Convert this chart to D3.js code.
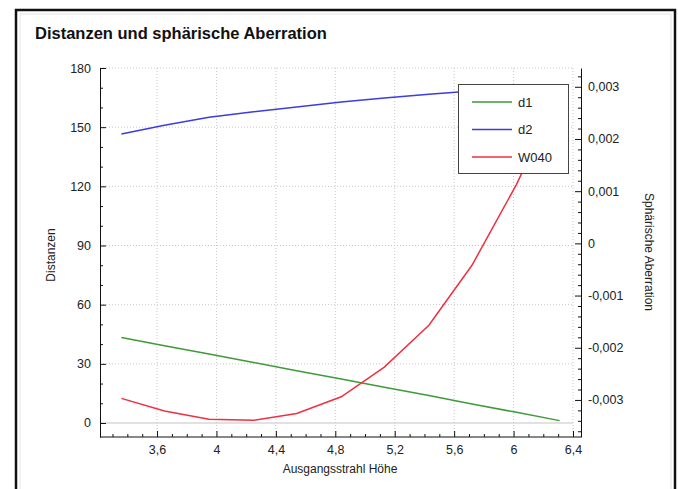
<!DOCTYPE html>
<html>
<head>
<meta charset="utf-8">
<script src="https://cdn.jsdelivr.net/npm/d3@7"></script>
<style>
  html, body { margin: 0; padding: 0; background: #fff; }
  text { font-family: "Liberation Sans", Arial, sans-serif; fill: #222; }
  .grid line { stroke: #c8c8c8; stroke-dasharray: 1,2; }
  .axis path, .axis line { stroke: #111; }
  .axis text { font-size: 12.5px; }
</style>
</head>
<body>
<div id="chart"></div>
<script>
// Data
var hoehe = [3.36, 3.65, 3.95, 4.25, 4.54, 4.84, 5.13, 5.43, 5.72, 6.02, 6.31];
var d1 = [43.4, 39.2, 35.0, 30.7, 26.5, 22.3, 18.1, 13.9, 9.6, 5.4, 1.2];
var d2 = [146.5, 151.0, 155.0, 157.8, 160.2, 162.7, 164.8, 166.7, 168.4, 170.0, 171.4];
var w040 = [-0.00297, -0.00321, -0.00337, -0.00339, -0.00326, -0.00294, -0.00237, -0.00157, -0.00042, 0.00113, 0.0029];

var xTicks = [3.6, 4, 4.4, 4.8, 5.2, 5.6, 6, 6.4];
var leftTicks = [0, 30, 60, 90, 120, 150, 180];
var rightTicks = [-0.003, -0.002, -0.001, 0, 0.001, 0.002, 0.003];

var seriesNames = ["d1", "d2", "W040"];
var seriesColors = ["#3f9a3a", "#3c3ce0", "#ee3040"];

var de = d3.formatLocale({ decimal: ",", thousands: ".", grouping: [3], currency: ["", " €"], minus: "-" });

var renderChart = function() {
  var width = 678;
  var height = 489;

  var plot = { left: 100, right: 573, top: 68, bottom: 437 };
  var rightAxisX = 581;

  var svg = d3.select("#chart")
    .append("svg")
    .attr("width", width)
    .attr("height", height);

  // Outer frame
  svg.append("rect")
    .attr("x", 16).attr("y", 10)
    .attr("width", 659).attr("height", 500)
    .attr("fill", "#fff")
    .attr("stroke", "#111")
    .attr("stroke-width", 2.5);
  svg.append("rect")
    .attr("x", 20).attr("y", 14)
    .attr("width", 651).attr("height", 500)
    .attr("fill", "none")
    .attr("stroke", "#e4e4e4");

  svg.append("text")
    .attr("x", 35).attr("y", 39)
    .style("font-size", "16.5px")
    .style("font-weight", "bold")
    .style("fill", "#111")
    .text("Distanzen und sphärische Aberration");

  // Scales
  var xScale = d3.scaleLinear().domain([3.216, 6.4]).range([plot.left, plot.right]);
  var yLeft = d3.scaleLinear().domain([-7.1, 180]).range([plot.bottom, plot.top]);
  var yRight = d3.scaleLinear().domain([-0.00371, 0.00336]).range([plot.bottom, plot.top]);

  // Grid
  var grid = svg.append("g").attr("class", "grid");
  grid.selectAll(".h")
    .data(leftTicks.filter(d => d !== 0))
    .enter().append("line")
    .attr("x1", plot.left).attr("x2", plot.right)
    .attr("y1", d => yLeft(d)).attr("y2", d => yLeft(d));
  grid.selectAll(".v")
    .data(xTicks)
    .enter().append("line")
    .attr("x1", d => xScale(d)).attr("x2", d => xScale(d))
    .attr("y1", plot.top).attr("y2", plot.bottom);
  svg.append("line")
    .attr("x1", plot.left).attr("x2", plot.right)
    .attr("y1", yLeft(0)).attr("y2", yLeft(0))
    .attr("stroke", "#c4c4c4");

  // Lines
  var pts = hoehe.map((h, i) => i);
  var series = [
    { values: d1, scale: yLeft },
    { values: d2, scale: yLeft },
    { values: w040, scale: yRight }
  ];
  series.forEach(function(s, k) {
    var line = d3.line()
      .x(i => xScale(hoehe[i]))
      .y(i => s.scale(s.values[i]));
    svg.append("path")
      .attr("d", line(pts))
      .attr("fill", "none")
      .attr("stroke", seriesColors[k])
      .attr("stroke-width", 1.5);
  });

  // Minor tick values
  var xMinor = d3.range(33, 65).map(d => d / 10).filter(d => xTicks.indexOf(d) < 0);
  var leftMinor = d3.range(0, 181, 10).filter(d => d % 30 !== 0);
  var rightMinor = d3.range(-18, 17).map(d => d * 0.0002).filter(d => Math.abs(d * 1000 - Math.round(d * 1000)) > 1e-6);

  // Bottom axis
  var xAxis = d3.axisBottom(xScale)
    .tickValues(xTicks)
    .tickSize(-6)
    .tickSizeOuter(0)
    .tickPadding(8)
    .tickFormat(de.format(".1~f"));
  var xg = svg.append("g")
    .attr("class", "x axis")
    .attr("transform", `translate(0,${plot.bottom})`)
    .call(xAxis);
  xg.select(".domain").attr("d", `M${plot.left},0H${rightAxisX}`);
  svg.append("g")
    .attr("class", "x axis minor")
    .attr("transform", `translate(0,${plot.bottom})`)
    .call(d3.axisBottom(xScale).tickValues(xMinor).tickSize(-3).tickFormat(""))
    .select(".domain").remove();

  // Left axis
  svg.append("g")
    .attr("class", "y axis")
    .attr("transform", `translate(${plot.left},0)`)
    .call(d3.axisLeft(yLeft).tickValues(leftTicks).tickSize(-6).tickSizeOuter(0).tickPadding(9));
  svg.append("g")
    .attr("class", "y axis minor")
    .attr("transform", `translate(${plot.left},0)`)
    .call(d3.axisLeft(yLeft).tickValues(leftMinor).tickSize(-3).tickFormat(""))
    .select(".domain").remove();

  // Right axis
  svg.append("g")
    .attr("class", "y axis")
    .attr("transform", `translate(${rightAxisX},0)`)
    .call(d3.axisRight(yRight).tickValues(rightTicks).tickSize(-6).tickSizeOuter(0).tickPadding(7)
      .tickFormat(d => d === 0 ? "0" : de.format(".3f")(d)));
  svg.append("g")
    .attr("class", "y axis minor")
    .attr("transform", `translate(${rightAxisX},0)`)
    .call(d3.axisRight(yRight).tickValues(rightMinor).tickSize(-3).tickFormat(""))
    .select(".domain").remove();

  // Axis titles
  svg.append("text")
    .attr("x", 340).attr("y", 473)
    .attr("text-anchor", "middle")
    .style("font-size", "12px")
    .text("Ausgangsstrahl Höhe");
  svg.append("text")
    .attr("transform", "translate(55,255) rotate(-90)")
    .attr("text-anchor", "middle")
    .style("font-size", "12px")
    .text("Distanzen");
  svg.append("text")
    .attr("transform", "translate(645,252) rotate(90)")
    .attr("text-anchor", "middle")
    .style("font-size", "12px")
    .text("Sphärische Aberration");

  // Legend
  var legend = svg.append("g").attr("class", "legend");
  legend.append("rect")
    .attr("x", 458.5).attr("y", 84.5)
    .attr("width", 110).attr("height", 89)
    .attr("fill", "#fff")
    .attr("stroke", "#444");
  var items = legend.selectAll(".item")
    .data(seriesNames)
    .enter().append("g")
    .attr("transform", (d, i) => `translate(0,${102 + i * 27.5})`);
  items.append("line")
    .attr("x1", 472).attr("x2", 512)
    .attr("stroke", (d, i) => seriesColors[i])
    .attr("stroke-width", 1.5);
  items.append("text")
    .attr("x", 518).attr("y", 4.5)
    .style("font-size", "13px")
    .text(d => d);
};

renderChart();
</script>
</body>
</html>
